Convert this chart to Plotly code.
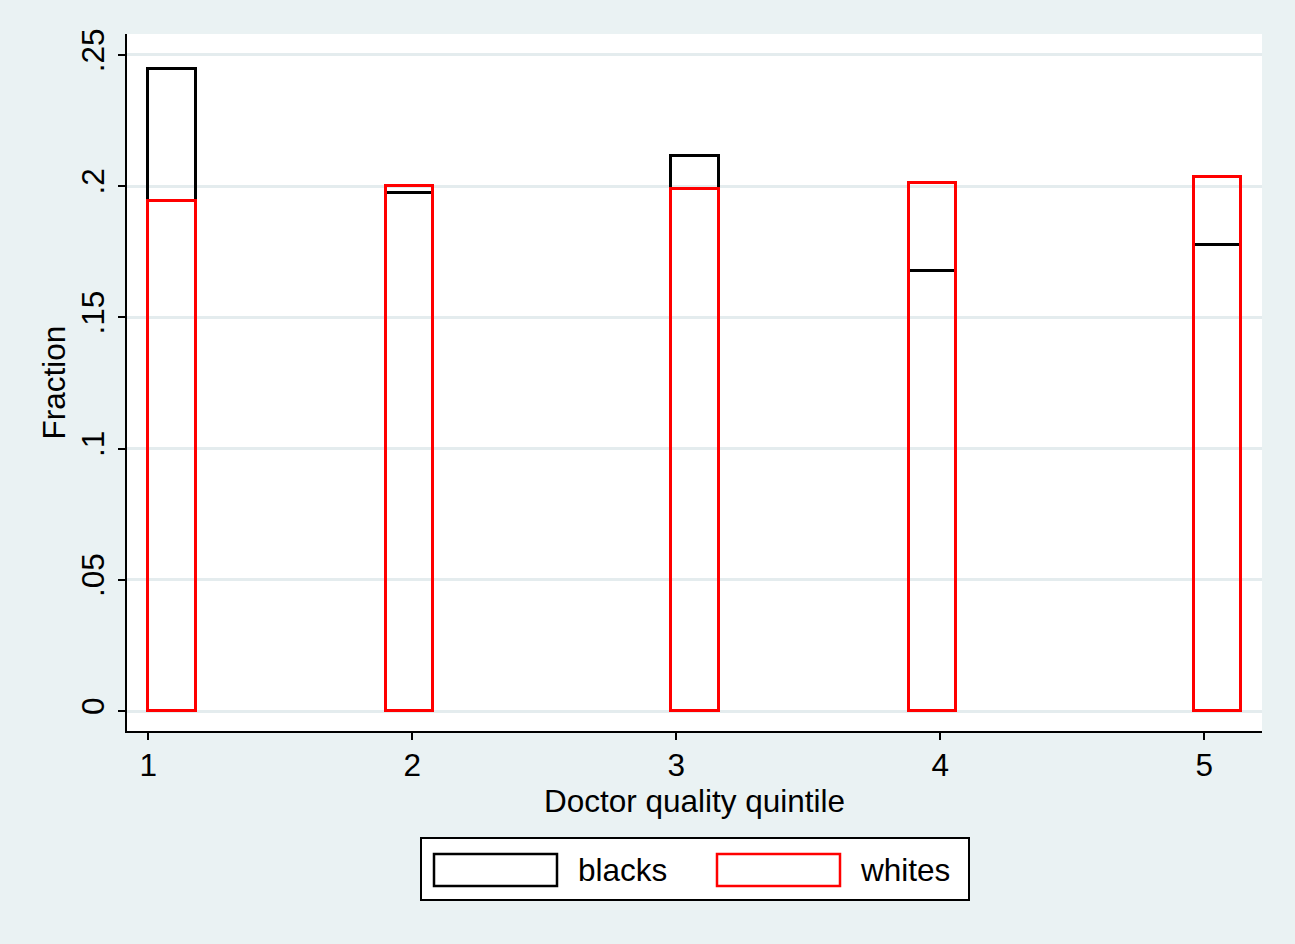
import plotly.graph_objects as go

# Data
bin_left = [1.00, 1.90, 2.98, 3.88, 4.96]
bin_width = 0.18
blacks = [0.2445, 0.1975, 0.2116, 0.1677, 0.1776]
whites = [0.1944, 0.2001, 0.1988, 0.2013, 0.2036]
series_names = ["blacks", "whites"]
series_colors = ["#000000", "#FF0000"]
x_ticks = [1, 2, 3, 4, 5]
x_ticktext = ["1", "2", "3", "4", "5"]
y_ticks = [0, 0.05, 0.1, 0.15, 0.2, 0.25]
y_ticktext = ["0", ".05", ".1", ".15", ".2", ".25"]

FONT = "Liberation Sans, Arial, Helvetica, sans-serif"
FS = 31.5
BG = "#EAF2F3"
centers = [b + bin_width / 2 for b in bin_left]

fig = go.Figure()
for name, vals, col in zip(series_names, [blacks, whites], series_colors):
    fig.add_trace(go.Bar(
        x=centers, y=vals, width=bin_width, name=name,
        marker=dict(color="rgba(0,0,0,0)", line=dict(color=col, width=3)),
        showlegend=False,
    ))

W, H = 1295, 944
L, R, T, B = 127, 33, 34, 213
pw, ph = W - L - R, H - T - B

def px(x):
    return (x - L) / pw

def py(y):
    return (H - B - y) / ph

shapes = [
    dict(type="rect", xref="paper", yref="paper", x0=px(421), x1=px(969), y0=py(900), y1=py(838),
         line=dict(color="black", width=2), fillcolor="white", layer="above"),
]
annotations = []
sw_x = [434, 717]
tx_x = [576, 858]
for name, col, sx, tx in zip(series_names, series_colors, sw_x, tx_x):
    shapes.append(dict(type="rect", xref="paper", yref="paper", x0=px(sx), x1=px(sx + 123),
                       y0=py(886), y1=py(854), line=dict(color=col, width=2.5),
                       fillcolor="white", layer="above"))
    annotations.append(dict(xref="paper", yref="paper", x=px(tx), y=py(870), text=name,
                            showarrow=False, xanchor="left", yanchor="middle",
                            font=dict(family=FONT, size=FS, color="black")))

fig.update_layout(
    width=W, height=H,
    margin=dict(l=L, r=R, t=T, b=B),
    paper_bgcolor=BG, plot_bgcolor="white",
    barmode="overlay", bargap=0,
    font=dict(family=FONT, size=FS, color="black"),
    shapes=shapes, annotations=annotations,
    xaxis=dict(
        range=[0.919, 5.219], tickmode="array", tickvals=x_ticks, ticktext=x_ticktext,
        showgrid=False, zeroline=False, showline=True, linecolor="black", linewidth=2,
        ticks="outside", ticklen=7, tickwidth=2, tickcolor="black",
        tickfont=dict(size=FS), ticklabelstandoff=-2,
        title=dict(text="Doctor quality quintile", font=dict(size=FS), standoff=8),
    ),
    yaxis=dict(
        range=[-0.00762, 0.258], tickmode="array", tickvals=y_ticks, ticktext=y_ticktext,
        tickangle=-90, showgrid=True, gridcolor="#E4ECEE", gridwidth=2.5,
        zeroline=False, showline=True, linecolor="black", linewidth=2,
        ticks="outside", ticklen=7, tickwidth=2, tickcolor="black",
        tickfont=dict(size=FS), ticklabelstandoff=1,
        title=dict(text="Fraction", font=dict(size=FS), standoff=0),
    ),
)

fig.write_html(
    "out.html",
    config={"displayModeBar": False},
    post_script="document.body.style.margin='0';document.body.style.overflow='hidden';",
)
